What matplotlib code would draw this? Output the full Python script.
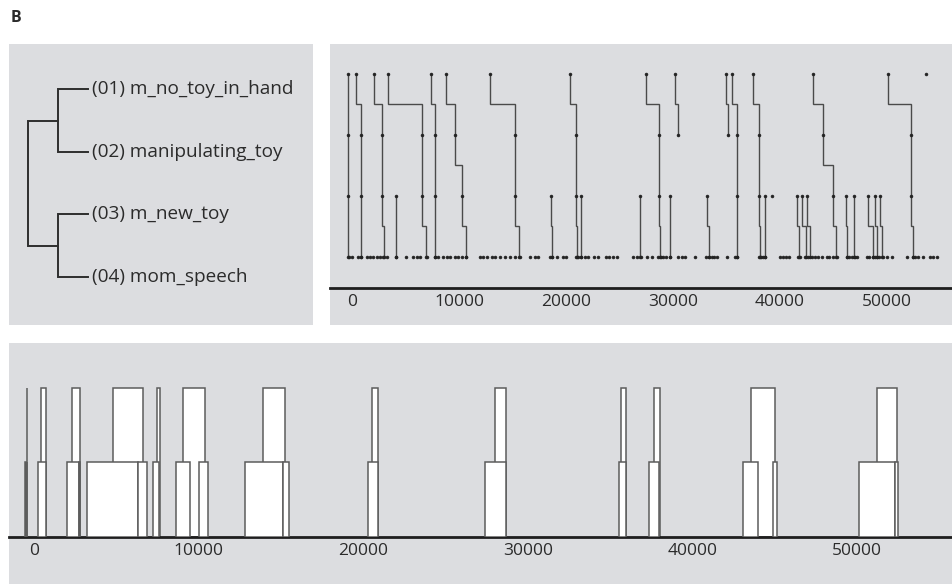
import matplotlib
matplotlib.use("Agg")
import matplotlib.pyplot as plt
from matplotlib.patches import Rectangle

plt.rcParams["font.family"] = ["Open Sans", "DejaVu Sans"]

W, H = 952, 584
PANEL = "#dcdde0"
INK = "#4a4a4a"
DOT = "#222222"
TEXT = "#2b2b2b"

# --- left: dendrogram of the four streams (scipy-style linkage rows) ---
LEAF_LABELS = ["(01) m_no_toy_in_hand", "(02) manipulating_toy",
               "(03) m_new_toy", "(04) mom_speech"]
LINKAGE = [[0, 1, 1.0],
           [2, 3, 1.0],
           [4, 5, 2.0]]

# --- top right: event paths, value of each of the 4 node rows (None = absent) ---
PATHS = [
    [-350, -350, -350, -350],
    [350, 810, 810, 810],
    [2080, 2830, 2830, 2960],
    [3390, 6510, 6510, 6920],
    [None, None, 4080, 4080],
    [7360, 7790, 7790, 7790],
    [8760, 9580, 10250, 10650],
    [12900, 15230, 15230, 15610],
    [None, None, 18570, 18660],
    [20370, 20910, 20910, 21030],
    [None, None, 21370, 21370],
    [None, None, 26960, 26960],
    [27480, 28690, 28690, 28740],
    [None, None, 29720, 29720],
    [30190, 30440, None, None],
    [None, None, 33150, 33390],
    [34950, 35170, None, None],
    [35490, 35950, 35950, 35950],
    [37450, 38040, 38040, 38090],
    [None, None, 38600, 38600],
    [None, None, 39280, None],
    [None, None, 41560, 41800],
    [None, None, 42090, 42400],
    [None, None, 42520, 42800],
    [43060, 43990, 44930, 45230],
    [None, None, 46140, 46230],
    [None, None, 46950, 46950],
    [None, None, 48250, 48660],
    [None, None, 48880, 49020],
    [None, None, 49350, 49510],
    [50120, 52240, 52240, 52400],
    [53650, None, None, None],
]

# single events on the last row
BOTTOM_DOTS = [
    -250, -30, 590, 810, 1370, 1680, 1990, 2310, 2620, 2930, 3240, 4080,
    5020, 5730, 6050, 6360, 6980, 7760, 8070, 8530, 8850, 9160, 9630, 9930,
    10250, 10650, 11960, 12270, 12590, 13060, 13360, 13830, 14300, 14770,
    15230, 15700, 16640, 17100, 17410, 18510, 18660, 19130, 19750, 20000,
    20930, 21150, 21370, 21780, 22080, 22620, 23020, 23740, 24050, 24420,
    24740, 26290, 26610, 26980, 27540, 28010, 28630, 28850, 29090, 29350,
    29720, 30500, 30810, 31120, 32060, 33090, 33390, 33620, 33830, 34140,
    35080, 35800, 36010, 38040, 38200, 38440, 38600, 40000, 40250, 40560,
    40870, 41710, 41870, 42340, 42650, 42960, 43270, 43580, 43900, 44370,
    44610, 44980, 45300, 46230, 46480, 46700, 47010, 47230, 48100, 48350,
    48660, 48880, 49090, 49280, 49600, 49970, 50440, 51840, 52400, 52620,
    52930, 53390, 54020, 54330, 54650,
]

# --- bottom: episode spans (start, end) ---
UPPER_SPANS = [
    (-460, -450), (410, 690), (2310, 2780), (4790, 6620), (7430, 7650),
    (9070, 10390), (13920, 15260), (20540, 20880), (28020, 28690),
    (35690, 36000), (37680, 38030), (43560, 45030), (51250, 52430),
]
LOWER_SPANS = [
    (-540, -520), (-460, -450), (240, 690), (2010, 2690), (2690, 2780),
    (3230, 6330), (6330, 6840), (7210, 7610), (8610, 9460), (10030, 10570),
    (12830, 15100), (15100, 15460), (20310, 20880), (27420, 28690),
    (35530, 35960), (37370, 37980), (43100, 44030), (44920, 45170),
    (50160, 52330), (52330, 52530),
]
UPPER_HEIGHT = 2.0
LOWER_HEIGHT = 1.0

TICKS = [0, 10000, 20000, 30000, 40000, 50000]


def box(x0, y0, x1, y1):
    """pixel box (top-left origin) -> figure fraction rect"""
    return [x0 / W, 1 - y1 / H, (x1 - x0) / W, (y1 - y0) / H]


def time_axis(ax):
    for s in ("top", "left", "right"):
        ax.spines[s].set_visible(False)
    ax.spines["bottom"].set_linewidth(2.0)
    ax.spines["bottom"].set_color("#1e1e1e")
    ax.set_yticks([])
    ax.set_xticks(TICKS)
    ax.set_xticklabels([str(t) for t in TICKS])
    ax.tick_params(axis="x", length=0, pad=4, labelsize=12.5, labelcolor=TEXT)
    ax.patch.set_alpha(0)


fig = plt.figure(figsize=(W / 100, H / 100), dpi=100)
fig.patch.set_facecolor("white")

# grey panel backgrounds, behind every axes
for x0, y0, x1, y1 in [(9, 44, 313, 325), (330, 44, 952, 325), (9, 343, 952, 584)]:
    b = box(x0, y0, x1, y1)
    fig.patches.append(Rectangle((b[0], b[1]), b[2], b[3], transform=fig.transFigure,
                                 facecolor=PANEL, edgecolor="none", zorder=-5))

fig.text(11 / W, 1 - 10 / H, "B", fontsize=11.5, fontweight="bold", color=TEXT, va="top")

# dendrogram
ax_d = fig.add_axes(box(9, 44, 313, 325))
ax_d.set_axis_off()
pos = {i: (float(i), 0.0) for i in range(len(LEAF_LABELS))}
for k, (a, b, h) in enumerate(LINKAGE):
    ya, da = pos[a]
    yb, db = pos[b]
    ax_d.plot([da, h, h, db], [ya, ya, yb, yb], color="#2e2e2e", lw=1.4,
              solid_joinstyle="miter")
    pos[len(LEAF_LABELS) + k] = ((ya + yb) / 2, h)
for i, lab in enumerate(LEAF_LABELS):
    ax_d.annotate(lab, (0, i), xytext=(3, 0), textcoords="offset points",
                  va="center", ha="left", fontsize=13.7, color=TEXT)
ax_d.set_xlim(2.64, -7.58)
ax_d.set_ylim(3.77, -0.725)

# event tree over time
ax_t = fig.add_axes(box(330, 44, 952, 288))
for nodes in PATHS:
    pts = [(v, 2 * r) for r, v in enumerate(nodes) if v is not None]
    xs, ys = [pts[0][0]], [pts[0][1]]
    for (xa, la), (xb, lb) in zip(pts, pts[1:]):
        xs += [xa, xb, xb]
        ys += [la + 1, la + 1, lb]
    ax_t.plot(xs, ys, color=INK, lw=1.0, solid_joinstyle="miter", zorder=2)
    ax_t.plot([p[0] for p in pts], [p[1] for p in pts], "o", ms=2.1,
              color=DOT, mec=DOT, mew=0.4, zorder=3)
ax_t.plot(BOTTOM_DOTS, [6] * len(BOTTOM_DOTS), "o", ms=2.1, color=DOT, mec=DOT,
          mew=0.4, zorder=3)
ax_t.set_xlim(-2056, 56076)
ax_t.set_ylim(7.02, -0.98)
time_axis(ax_t)

# episode blocks: upper spans stand on the baseline, lower spans drawn over them
ax_b = fig.add_axes(box(9, 343, 952, 537))
ax_b.bar([s for s, e in UPPER_SPANS], UPPER_HEIGHT,
         width=[e - s for s, e in UPPER_SPANS], align="edge",
         facecolor="white", edgecolor="#5c5c5c", lw=1.1, zorder=2)
ax_b.bar([s for s, e in LOWER_SPANS], LOWER_HEIGHT,
         width=[e - s for s, e in LOWER_SPANS], align="edge",
         facecolor="white", edgecolor="#5c5c5c", lw=1.1, zorder=3)
ax_b.set_xlim(-1540, 55800)
ax_b.set_ylim(0, 2.604)
time_axis(ax_b)

fig.savefig("out.png", dpi=100, facecolor="white")
